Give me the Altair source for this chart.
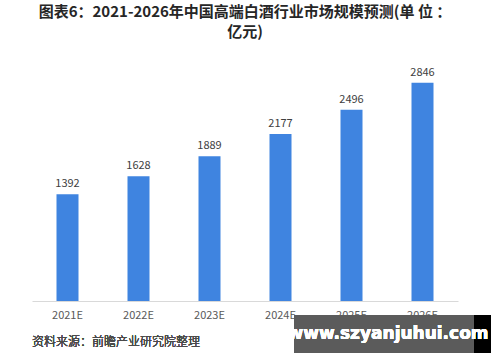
import altair as alt
import pandas as pd

years = ["2021E", "2022E", "2023E", "2024E", "2025E", "2026E"]
values = [1392, 1628, 1889, 2177, 2496, 2846]

title_lines = ["图表6：2021-2026年中国高端白酒行业市场规模预测(单 位 ：", "亿元)"]
source_text = "资料来源：前瞻产业研究院整理"
overlay_text = "www.szyanjuhui.com"

df = pd.DataFrame({"year": years, "value": values})
FONT = "Noto Sans CJK SC"

base = alt.Chart(df)

bars = base.mark_bar(color="#3f84e0", size=22).encode(
    x=alt.X("year:N", sort=years, title=None,
            scale=alt.Scale(paddingInner=0.69, paddingOuter=0.345),
            axis=alt.Axis(labelAngle=0, ticks=False, grid=False, domainColor="#d9d9d9",
                          labelColor="#595959", labelFontSize=11, labelPadding=8,
                          labelFont=FONT)),
    y=alt.Y("value:Q", scale=alt.Scale(domain=[0, 3000]), axis=None),
)

labels = base.mark_text(baseline="bottom", dy=-5, fontSize=11, color="#404040",
                        font=FONT, fontWeight="normal").encode(
    x=alt.X("year:N", sort=years),
    y="value:Q",
    text="value:Q",
)

src = base.mark_text(align="left", baseline="middle", fontSize=12, color="#4a4a4a",
                     font=FONT, fontWeight=300).encode(
    x=alt.value(0), y=alt.value(271), text=alt.value(source_text)
)

box = base.mark_rect(color="#5b5b5b").encode(
    x=alt.value(262), x2=alt.value(442), y=alt.value(244), y2=alt.value(282)
)
box2 = base.mark_rect(color="#000000").encode(
    x=alt.value(442), x2=alt.value(459), y=alt.value(244), y2=alt.value(282)
)
otext = base.mark_text(align="center", baseline="middle", fontSize=17, fontWeight="bold",
                       color="#ffffff", font="DejaVu Sans").encode(
    x=alt.value(356), y=alt.value(263), text=alt.value(overlay_text)
)

chart = alt.layer(bars, labels, src, box, box2, otext).properties(
    width=426, height=230,
    autosize=alt.AutoSizeParams(type="none"),
    padding={"left": 32, "top": 71, "right": 42, "bottom": 61},
    title=alt.TitleParams(text=title_lines, fontSize=15, fontWeight="bold",
                          font=FONT, color="#262626", anchor="middle",
                          lineHeight=20, offset=27),
).configure(background="#ffffff").configure_view(stroke=None)

chart.save("out.html", embed_options={"renderer": "svg", "actions": False})
